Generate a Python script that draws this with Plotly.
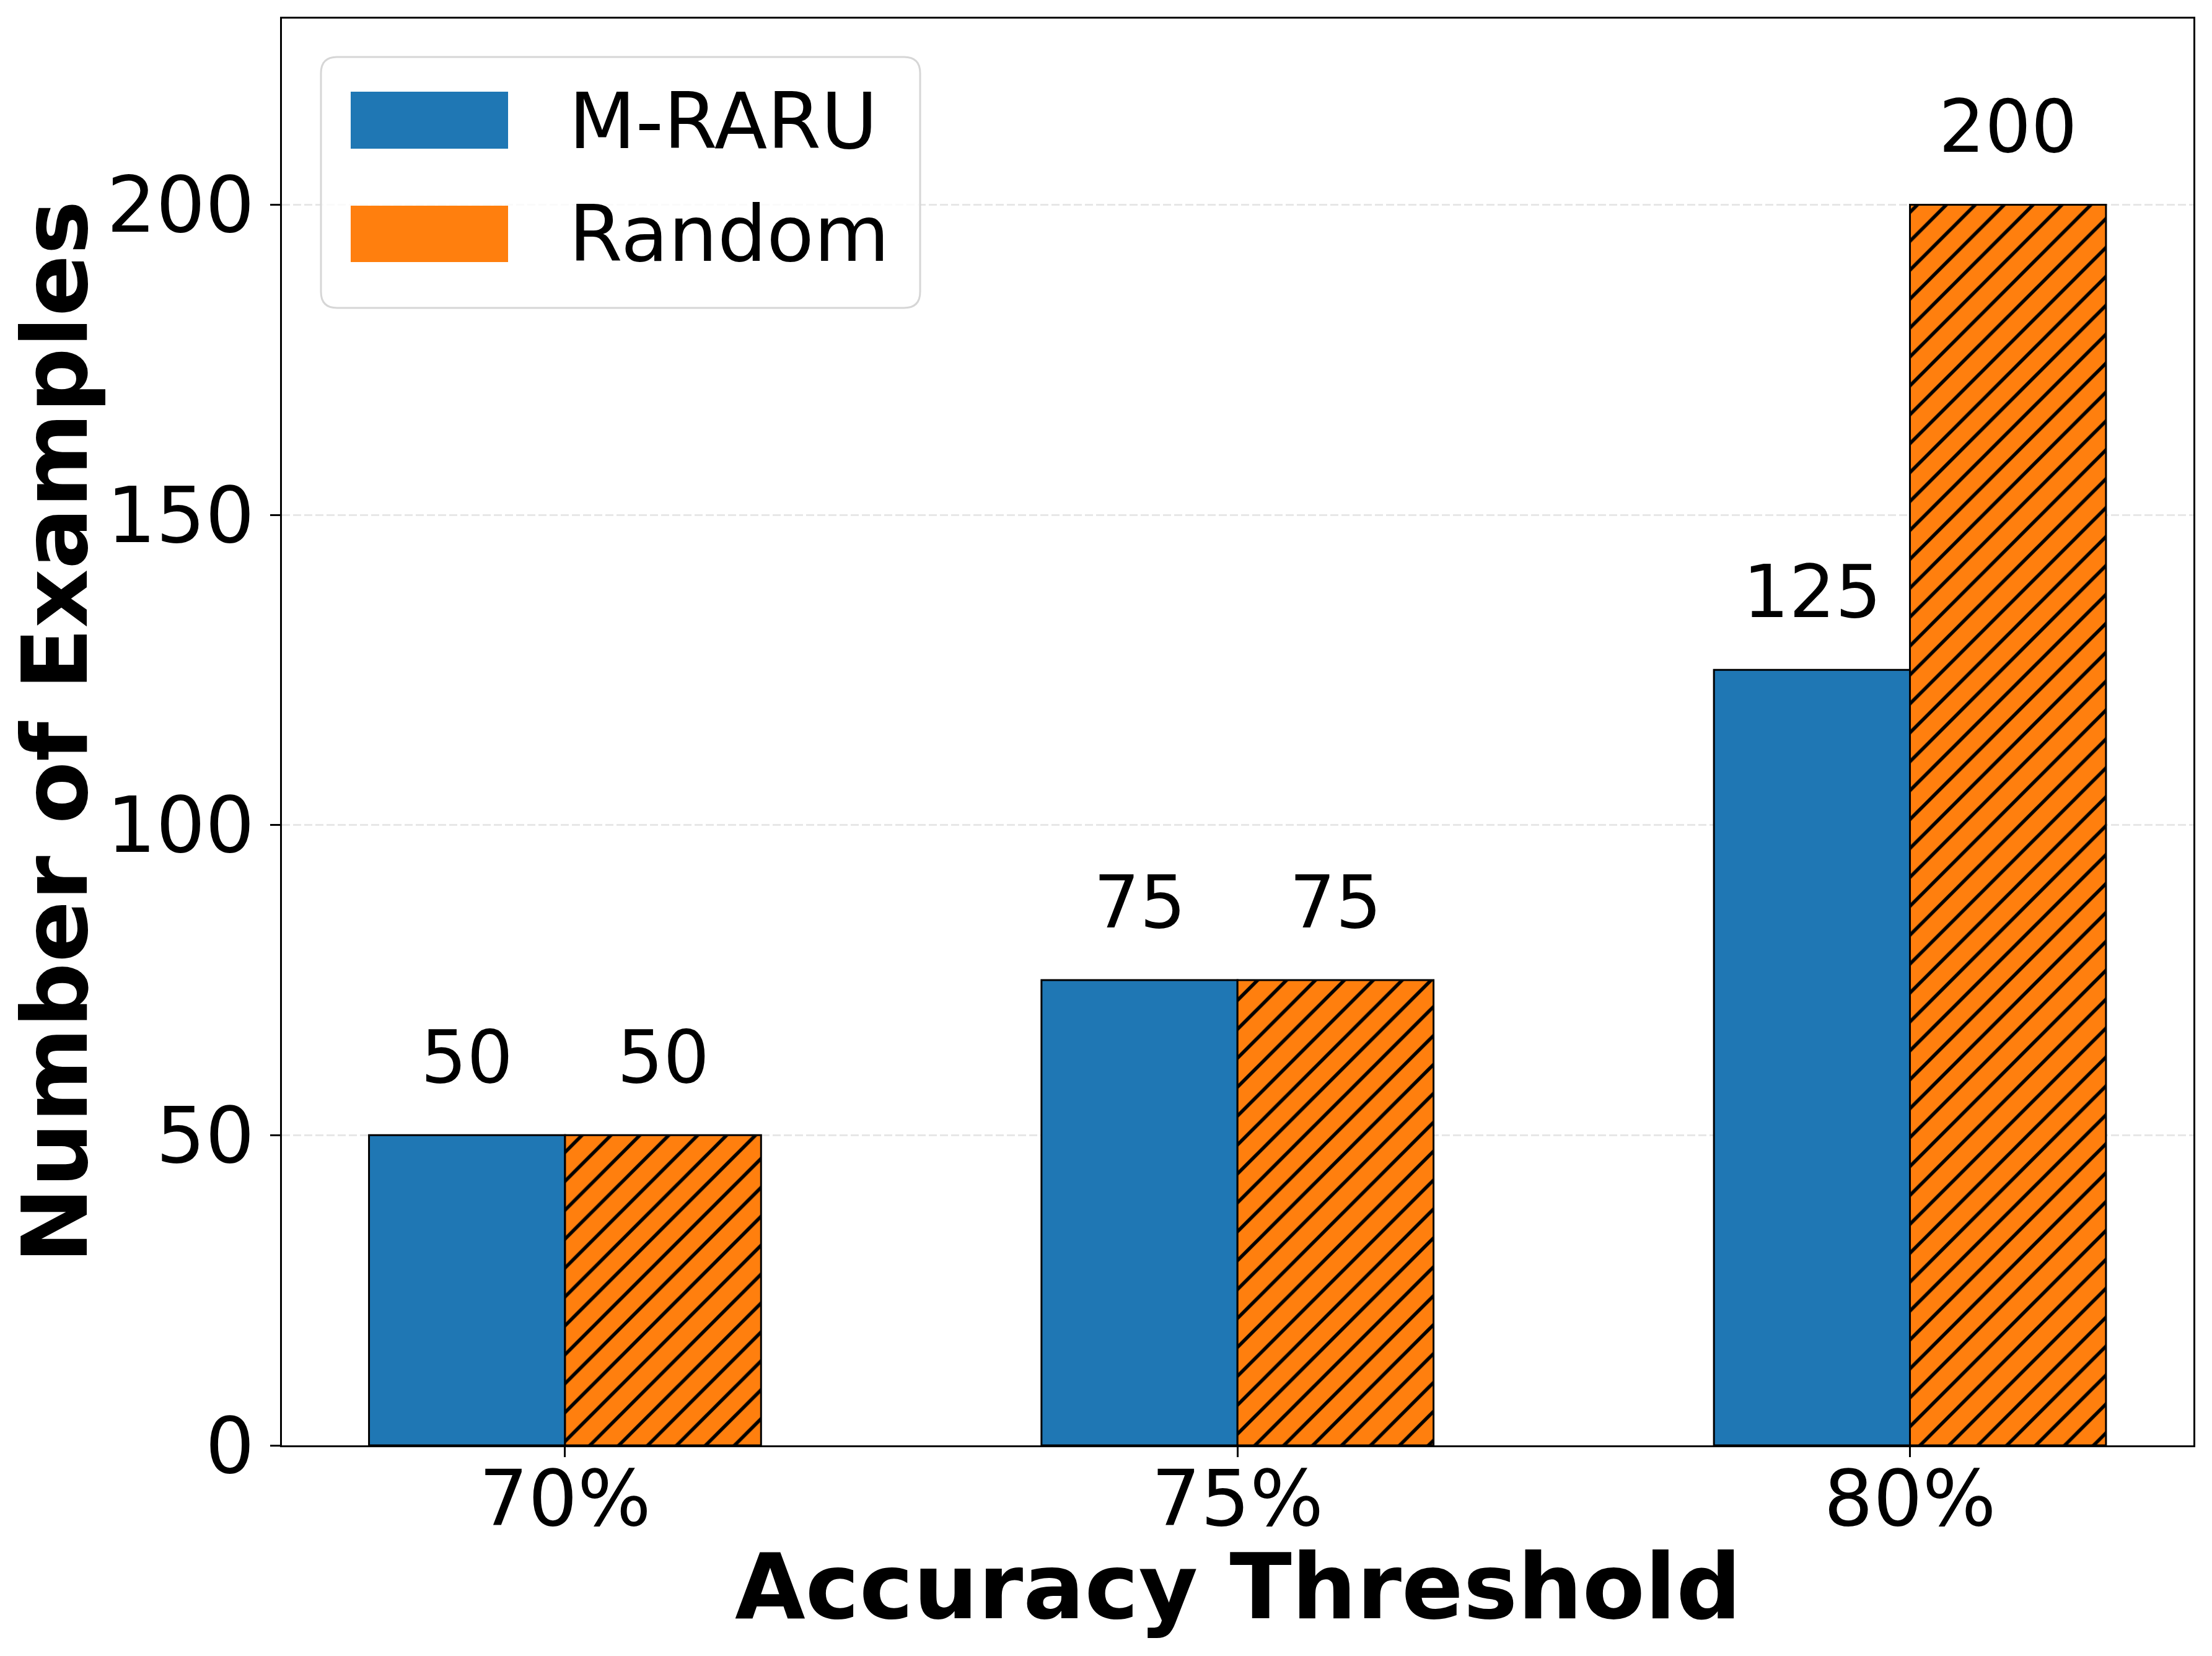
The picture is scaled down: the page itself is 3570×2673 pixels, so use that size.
import plotly.graph_objects as go

# ---- data ----
categories = ["70%", "75%", "80%"]
positions = [0, 1, 2]
m_raru = [50, 75, 125]
random_vals = [50, 75, 200]
series_names = ["M-RARU", "Random"]
y_ticks = [0, 50, 100, 150, 200]

BLUE = "#1f77b4"
ORANGE = "#ff7f0e"
FONT = "DejaVu Sans"
BAR_W = 0.2915

W, H = 3570, 2673
L, R, T, B = 455, 30, 30, 340
PW, PH = W - L - R, H - T - B


def px_x(p):
    return (p - L) / PW


def px_y(p):
    return (H - B - p) / PH


fig = go.Figure()
fig.add_trace(go.Bar(
    x=positions, y=m_raru, name=series_names[0], width=BAR_W, offset=-BAR_W,
    marker=dict(color=BLUE, line=dict(color="black", width=3)),
    showlegend=False,
))
fig.add_trace(go.Bar(
    x=positions, y=random_vals, name=series_names[1], width=BAR_W, offset=0,
    marker=dict(color=ORANGE, line=dict(color="black", width=3),
                pattern=dict(shape="/", size=33, solidity=0.17,
                             fgcolor="black", bgcolor=ORANGE, fillmode="replace")),
    showlegend=False,
))

annotations = []
# value labels
for xs, vals, sign in ((positions, m_raru, -1), (positions, random_vals, 1)):
    for xv, v in zip(xs, vals):
        annotations.append(dict(
            x=xv + sign * BAR_W / 2, y=v, xref="x", yref="y", text=str(v),
            showarrow=False, xanchor="center", yanchor="bottom", yshift=55,
            font=dict(family=FONT, size=117, color="black"),
        ))

# axis titles
annotations.append(dict(
    x=0.5, y=px_y(2561), xref="paper", yref="paper", text="<b>Accuracy Threshold</b>",
    showarrow=False, xanchor="center", yanchor="middle",
    font=dict(family=FONT, size=147, color="black"),
))
annotations.append(dict(
    x=px_x(89), y=0.5, xref="paper", yref="paper", text="<b>Number of Examples</b>",
    showarrow=False, xanchor="center", yanchor="middle", textangle=-90,
    font=dict(family=FONT, size=147, color="black"),
))

# legend (manual)
lx0, ly0, lx1, ly1, rad = 518, 92, 1485, 497, 26


def rounded_rect(x0, y0, x1, y1, r):
    pts = [
        f"M {px_x(x0 + r)},{px_y(y0)}",
        f"L {px_x(x1 - r)},{px_y(y0)}",
        f"Q {px_x(x1)},{px_y(y0)} {px_x(x1)},{px_y(y0 + r)}",
        f"L {px_x(x1)},{px_y(y1 - r)}",
        f"Q {px_x(x1)},{px_y(y1)} {px_x(x1 - r)},{px_y(y1)}",
        f"L {px_x(x0 + r)},{px_y(y1)}",
        f"Q {px_x(x0)},{px_y(y1)} {px_x(x0)},{px_y(y1 - r)}",
        f"L {px_x(x0)},{px_y(y0 + r)}",
        f"Q {px_x(x0)},{px_y(y0)} {px_x(x0 + r)},{px_y(y0)}",
        "Z",
    ]
    return " ".join(pts)


shapes = [
    dict(type="path", xref="paper", yref="paper", path=rounded_rect(lx0, ly0, lx1, ly1, rad),
         fillcolor="rgba(255,255,255,0.8)", line=dict(color="#d6d6d6", width=3), layer="above"),
]
legend_rows = [(series_names[0], BLUE, 148, 240, 195), (series_names[1], ORANGE, 332, 423, 377)]
for name, col, sy0, sy1, ty in legend_rows:
    shapes.append(dict(type="rect", xref="paper", yref="paper",
                       x0=px_x(566), x1=px_x(820), y0=px_y(sy1), y1=px_y(sy0),
                       fillcolor=col, line=dict(width=0), layer="above"))
    annotations.append(dict(
        x=px_x(916), y=px_y(ty), xref="paper", yref="paper", text=name,
        showarrow=False, xanchor="left", yanchor="middle",
        font=dict(family=FONT, size=125, color="black"),
    ))

fig.update_layout(
    width=W, height=H,
    margin=dict(l=L, r=R, t=T, b=B, pad=0),
    paper_bgcolor="white", plot_bgcolor="white",
    barmode="overlay",
    font=dict(family=FONT, size=125, color="black"),
    annotations=annotations, shapes=shapes,
    showlegend=False,
)
fig.update_xaxes(
    range=[-0.421, 2.4215], tickmode="array", tickvals=positions, ticktext=categories,
    showline=True, linecolor="black", linewidth=3.3, mirror=True,
    ticks="outside", ticklen=16, tickwidth=3, tickcolor="black",
    showgrid=False, zeroline=False, ticklabelstandoff=-40,
    tickfont=dict(family=FONT, size=125, color="black"),
)
fig.update_yaxes(
    range=[0, 230], tickmode="array", tickvals=y_ticks,
    showline=True, linecolor="black", linewidth=3.3, mirror=True,
    ticks="outside", ticklen=16, tickwidth=3, tickcolor="black",
    showgrid=True, gridcolor="#e7e7e7", gridwidth=3.4, griddash="12.6px,5.4px",
    zeroline=False,
    tickfont=dict(family=FONT, size=125, color="black"),
)

fig.write_html("out.html", config={"displayModeBar": False},
               post_script="document.body.style.margin='0';document.body.style.overflow='hidden';")
